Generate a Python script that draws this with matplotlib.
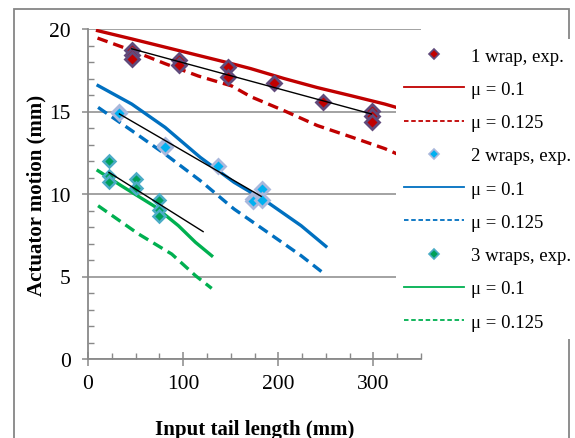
import matplotlib
matplotlib.use("Agg")
import matplotlib.pyplot as plt
from matplotlib.lines import Line2D
from matplotlib.patches import Rectangle
import numpy as np

plt.rcParams['font.family'] = ['Liberation Serif', 'DejaVu Serif']

# ---------------- data ----------------
# 1 wrap
x1_exp = [46, 46, 46, 96, 96, 147, 147, 196, 247, 298, 298, 298]
y1_exp = [18.7, 18.45, 18.2, 18.15, 17.8, 17.72, 17.1, 16.73, 15.56, 15.05, 14.75, 14.35]
x1_mod = [10, 46, 81, 116, 151, 171, 206, 241, 277, 312, 324, 345]
y1_mu01 = [19.9, 19.4, 18.9, 18.4, 17.9, 17.6, 17.0, 16.45, 15.95, 15.45, 15.25, 14.9]
y1_mu0125 = [19.45, 18.7, 17.9, 17.15, 16.55, 15.9, 15.05, 14.15, 13.45, 12.75, 12.45, 12.0]
x1_trend = [46, 298]
y1_trend = [18.8, 14.85]

# 2 wraps
x2_exp = [33, 33, 81, 81, 137, 173, 173, 183, 183]
y2_exp = [15.0, 14.9, 13.0, 12.85, 11.68, 9.7, 9.55, 10.3, 9.64]
x2_mod = [10.6, 46, 81, 118, 153.5, 188.7, 224, 250]
y2_mu01 = [16.57, 15.45, 14.04, 12.22, 10.71, 9.5, 8.08, 6.83]
y2_mu0125 = [15.25, 13.84, 12.42, 10.81, 9.09, 7.68, 6.26, 5.09]
x2_trend = [33, 182]
y2_trend = [14.85, 9.86]

# 3 wraps
x3_exp = [22, 22, 22, 50, 50, 75, 75, 75]
y3_exp = [11.98, 11.11, 10.71, 10.9, 10.36, 9.64, 9.03, 8.69]
x3_mu01 = [10.6, 35, 70, 95, 113, 130]
y3_mu01 = [11.41, 10.5, 9.25, 8.08, 7.07, 6.26]
x3_mu0125 = [10.6, 53, 88, 113, 130]
y3_mu0125 = [9.29, 7.58, 6.36, 5.05, 4.28]
x3_trend = [22, 121]
y3_trend = [11.31, 7.72]

labels = ["1 wrap, exp.", "\u03bc = 0.1", "\u03bc = 0.125",
          "2 wraps, exp.", "\u03bc = 0.1", "\u03bc = 0.125",
          "3 wraps, exp.", "\u03bc = 0.1", "\u03bc = 0.125"]

RED, BLUE, GREEN = '#C00000', '#0070C0', '#00B050'
GRAY = '#898989'

fig = plt.figure(figsize=(5.75, 4.39), dpi=100)
ax = fig.add_axes([88/575, 1-360/439, (421-88)/575, (360-30)/439])

lw = 2.4
dash = (3.2, 1.8)
# model lines
ax.plot(x1_mod, y1_mu01, color=RED, lw=lw, zorder=2)
ax.plot(x1_mod, y1_mu0125, color=RED, lw=lw, dashes=dash, zorder=2)
ax.plot(x2_mod, y2_mu01, color=BLUE, lw=lw, zorder=2)
ax.plot(x2_mod, y2_mu0125, color=BLUE, lw=lw, dashes=dash, zorder=2)
ax.plot(x3_mu01, y3_mu01, color=GREEN, lw=lw, zorder=2)
ax.plot(x3_mu0125, y3_mu0125, color=GREEN, lw=lw, dashes=dash, zorder=2)

# experiments
ax.plot(x1_exp, y1_exp, 'D', ms=6.8, mfc=RED, mec='#604A7B', mew=2.0, zorder=3, ls='none')
ax.plot(x2_exp, y2_exp, 'D', ms=6.8, mfc='#00B0F0', mec='#A9B8DC', mew=2.0, zorder=3, ls='none')
ax.plot(x3_exp, y3_exp, 'D', ms=6.2, mfc='#00A05A', mec='#4BACC6', mew=1.8, zorder=3, ls='none')

# trend lines
for xt, yt in [(x1_trend, y1_trend), (x2_trend, y2_trend), (x3_trend, y3_trend)]:
    ax.plot(xt, yt, color='black', lw=1.0, zorder=4)

ax.set_xlim(0, 350)
ax.set_ylim(0, 20)
ax.set_xticks([0, 100, 200, 300])
ax.set_xticks(np.arange(0, 351, 25), minor=True)
ax.set_yticks([0, 5, 10, 15, 20])
ax.set_yticks(np.arange(0, 21, 1), minor=True)
ax.grid(axis='y', which='major', color=GRAY, lw=1.1)
ax.set_axisbelow(True)
for s in ['top', 'right']:
    ax.spines[s].set_visible(False)
for s in ['left', 'bottom']:
    ax.spines[s].set_color(GRAY)
    ax.spines[s].set_linewidth(1.3)

ax.tick_params(axis='x', which='major', direction='inout', length=9.5, width=1.1,
               color=GRAY, labelsize=15.5, pad=6)
ax.tick_params(axis='x', which='minor', direction='in', length=4.5, width=1.0, color=GRAY)
ax.tick_params(axis='y', which='major', direction='out', length=4.5, width=1.1,
               color=GRAY, labelsize=15.5, pad=8)
ax.tick_params(axis='y', which='minor', direction='in', length=4, width=1.0, color=GRAY)

ax.set_xlabel("Input tail length (mm)", fontsize=15, fontweight='bold')
ax.set_ylabel("Actuator motion (mm)", fontsize=15, fontweight='bold')
ax.xaxis.set_label_coords(0.5, -0.183)
ax.yaxis.set_label_coords(-0.125, 0.5)

# legend
hl = 1.3
dl = (2.5, 1.5)
handles = [
    Line2D([], [], ls='none', marker='D', ms=5, mfc=RED, mec='#604A7B', mew=1.2),
    Line2D([], [], color=RED, lw=hl),
    Line2D([], [], color=RED, lw=hl, dashes=dl),
    Line2D([], [], ls='none', marker='D', ms=5, mfc='#00B0F0', mec='#A9B8DC', mew=1.2),
    Line2D([], [], color=BLUE, lw=hl),
    Line2D([], [], color=BLUE, lw=hl, dashes=dl),
    Line2D([], [], ls='none', marker='D', ms=5, mfc='#00A05A', mec='#4BACC6', mew=1.2),
    Line2D([], [], color=GREEN, lw=hl),
    Line2D([], [], color=GREEN, lw=hl, dashes=dl),
]
leg = fig.legend(handles, labels, loc='upper left', bbox_to_anchor=(396/575, 1-40/439),
                 fontsize=13.5, frameon=True, facecolor='white', edgecolor='none',
                 framealpha=1, fancybox=False, borderpad=0.45, handlelength=3.2,
                 handletextpad=0.35, labelspacing=0.86, numpoints=1, borderaxespad=0)
leg.set_zorder(10)

fig.add_artist(Rectangle((14/575, -0.05), (569-14)/575, 1.05 - 10/439,
                         transform=fig.transFigure, fill=False,
                         edgecolor='#868686', lw=1.3))

fig.savefig("out.png", dpi=100)
